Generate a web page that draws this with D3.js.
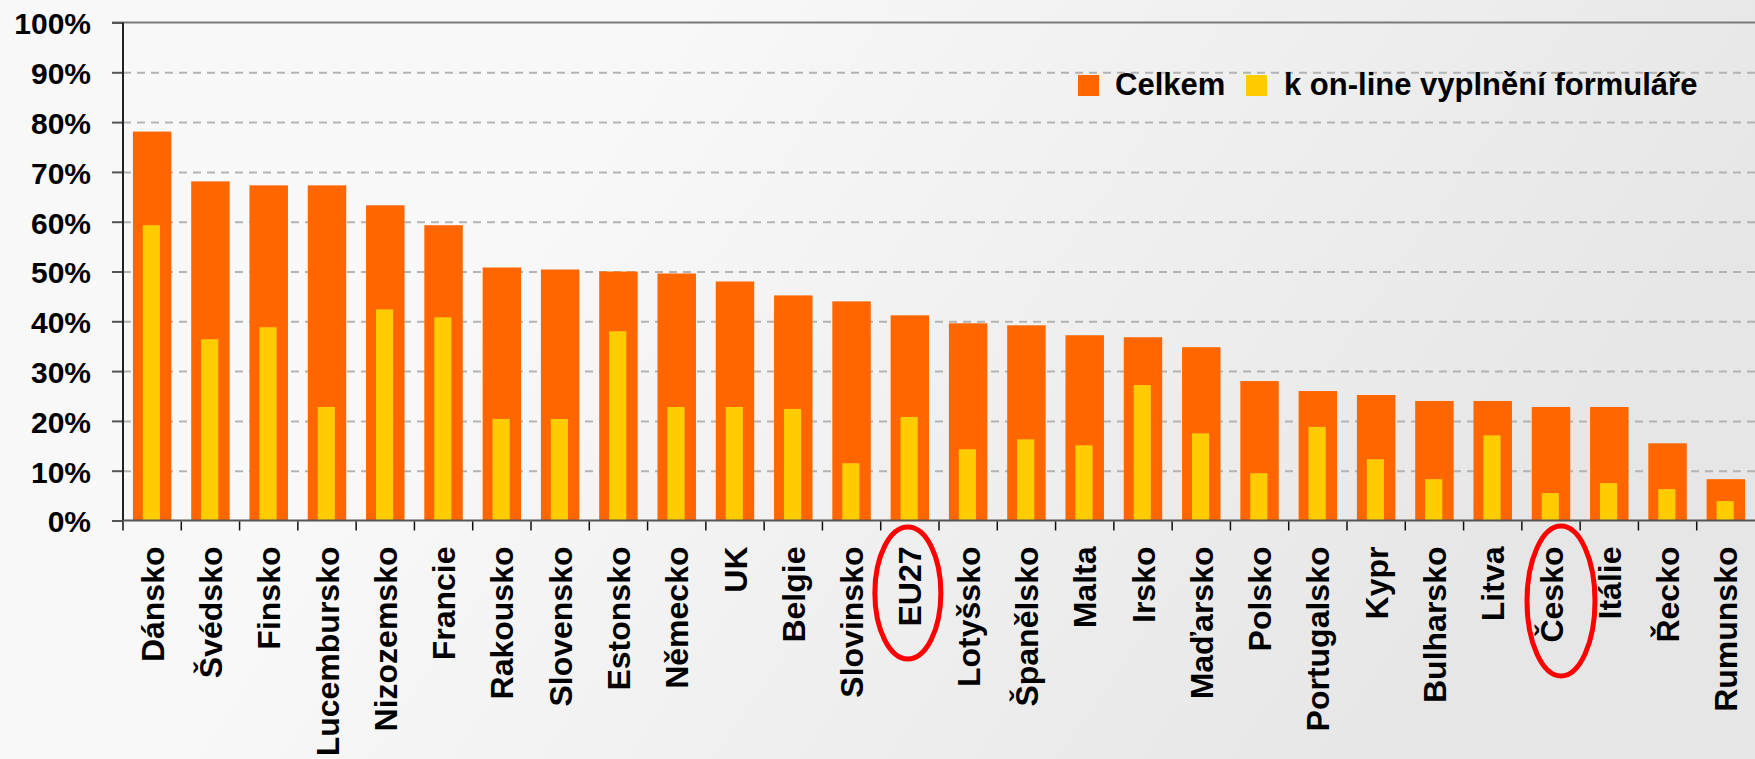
<!DOCTYPE html>
<html>
<head>
<meta charset="utf-8">
<script src="https://cdn.jsdelivr.net/npm/d3@7"></script>
<style>
  html, body { margin: 0; padding: 0; overflow: hidden; }
  svg { display: block; font-family: "Liberation Sans", Arial, sans-serif; }
</style>
</head>
<body>
<div id="chart"></div>
<script>
// Categories and values (share of people using e-government, %)
const countries = ["Dánsko", "Švédsko", "Finsko", "Lucembursko", "Nizozemsko", "Francie",
  "Rakousko", "Slovensko", "Estonsko", "Německo", "UK", "Belgie", "Slovinsko", "EU27",
  "Lotyšsko", "Španělsko", "Malta", "Irsko", "Maďarsko", "Polsko", "Portugalsko", "Kypr",
  "Bulharsko", "Litva", "Česko", "Itálie", "Řecko", "Rumunsko"];

const celkem = [78.1, 68.1, 67.3, 67.3, 63.3, 59.3, 50.8, 50.4, 50.0, 49.6, 48.0, 45.2, 44.0, 41.2,
  39.6, 39.2, 37.2, 36.8, 34.8, 28.0, 26.0, 25.2, 24.0, 24.0, 22.8, 22.8, 15.5, 8.3];

const online = [59.3, 36.4, 38.8, 22.8, 42.4, 40.8, 20.4, 20.4, 38.0, 22.8, 22.8, 22.4, 11.5, 20.8,
  14.3, 16.3, 15.1, 27.2, 17.5, 9.5, 18.8, 12.3, 8.3, 17.1, 5.5, 7.5, 6.3, 3.9];

const seriesNames = ["Celkem", "k on-line vyplnění formuláře"];
const yTicks = [0, 0.1, 0.2, 0.3, 0.4, 0.5, 0.6, 0.7, 0.8, 0.9, 1.0];
const highlighted = ["EU27", "Česko"];

const data = countries.map((c, i) => ({ country: c, total: celkem[i] / 100, form: online[i] / 100 }));

const width = 1755, height = 759;
const margins = { top: 22.5, right: 0, bottom: 238, left: 123 };
const colors = { total: "#ff6600", form: "#ffcc00" };

const svg = d3.select("#chart")
  .append("svg")
  .attr("width", width)
  .attr("height", height);

// background gradient
const grad = svg.append("defs").append("linearGradient")
  .attr("id", "bg")
  .attr("x1", "0").attr("y1", "0").attr("x2", "1").attr("y2", "0.3");
grad.append("stop").attr("offset", "0").attr("stop-color", "#f8f8f8");
grad.append("stop").attr("offset", "0.35").attr("stop-color", "#f8f8f8");
grad.append("stop").attr("offset", "1").attr("stop-color", "#e6e6e6");

svg.append("rect")
  .attr("width", width).attr("height", height)
  .attr("fill", "url(#bg)");

const xScale = d3.scaleBand()
  .domain(countries)
  .range([margins.left, width - margins.right])
  .padding(0);

const yScale = d3.scaleLinear()
  .domain([0, 1])
  .range([height - margins.bottom - 0.5, margins.top]);

// gridlines
svg.append("g")
    .attr("transform", `translate(${margins.left},0)`)
  .call(d3.axisLeft(yScale).tickValues(yTicks.slice(1, -1)).tickSize(-(width - margins.left)).tickFormat(""))
  .call(g => g.select(".domain").remove())
  .call(g => g.selectAll(".tick line")
    .attr("stroke", "#b3b3b3")
    .attr("stroke-width", 2)
    .attr("stroke-dasharray", "8,6"));

// top border
svg.append("line")
  .attr("x1", margins.left - 11).attr("x2", width)
  .attr("y1", yScale(1)).attr("y2", yScale(1))
  .attr("stroke", "#7a7a7a").attr("stroke-width", 2);

// bars
const bw = xScale.bandwidth();
const bars = svg.append("g");

bars.selectAll("rect.total")
  .data(data)
  .join("rect")
    .attr("class", "total")
    .attr("x", d => xScale(d.country) + bw * 0.17)
    .attr("y", d => yScale(d.total))
    .attr("width", bw * 0.66)
    .attr("height", d => yScale(0) - yScale(d.total))
    .attr("fill", colors.total);

bars.selectAll("rect.form")
  .data(data)
  .join("rect")
    .attr("class", "form")
    .attr("x", d => xScale(d.country) + bw * 0.34)
    .attr("y", d => yScale(d.form))
    .attr("width", bw * 0.295)
    .attr("height", d => yScale(0) - yScale(d.form))
    .attr("fill", colors.form);

// y axis
const yGroup = svg.append("g")
    .attr("transform", `translate(${margins.left},0)`)
  .call(d3.axisLeft(yScale).tickValues(yTicks).tickFormat(d3.format(".0%")).tickSize(11).tickPadding(21))
  .call(g => g.select(".domain").remove());

yGroup.selectAll(".tick line").attr("stroke", "#555").attr("stroke-width", 2);
yGroup.selectAll("text")
  .attr("dy", "0.38em")
  .style("font-size", "30px")
  .style("font-weight", "bold")
  .style("font-family", "'Liberation Sans', Arial, sans-serif")
  .attr("fill", "#000");

svg.append("line")
  .attr("x1", margins.left).attr("x2", margins.left)
  .attr("y1", yScale(1)).attr("y2", yScale(0))
  .attr("stroke", "#222").attr("stroke-width", 2);

// x axis
const xGroup = svg.append("g")
    .attr("transform", `translate(0,${yScale(0)})`)
  .call(d3.axisBottom(xScale).tickSize(10))
  .call(g => g.select(".domain")
    .attr("d", `M${margins.left},0H${width}`)
    .attr("stroke", "#555").attr("stroke-width", 2));

xGroup.selectAll(".tick line")
  .attr("x1", -bw / 2).attr("x2", -bw / 2)
  .attr("y1", 1)
  .attr("stroke", "#111").attr("stroke-width", 1.5);

xGroup.selectAll(".tick text")
  .attr("transform", "rotate(-90)")
  .attr("x", -26)
  .attr("y", 0)
  .attr("dy", "0.36em")
  .style("text-anchor", "end")
  .style("font-size", "32px")
  .style("font-weight", "bold")
  .style("font-family", "'Liberation Sans', Arial, sans-serif")
  .attr("fill", "#000");

// red ellipses around highlighted labels
const ellipseShape = { "EU27": { dx: -2, cy: 593, rx: 33, ry: 66 }, "Česko": { dx: 10, cy: 601, rx: 34, ry: 75 } };
svg.append("g")
  .selectAll("ellipse")
  .data(highlighted)
  .join("ellipse")
    .attr("cx", d => xScale(d) + bw / 2 + ellipseShape[d].dx)
    .attr("cy", d => ellipseShape[d].cy)
    .attr("rx", d => ellipseShape[d].rx)
    .attr("ry", d => ellipseShape[d].ry)
    .attr("fill", "none")
    .attr("stroke", "#ff0000")
    .attr("stroke-width", 5);

// legend
const legendX = [1078, 1246];
const legend = svg.append("g")
  .selectAll("g")
  .data(seriesNames)
  .join("g")
    .attr("transform", (d, i) => `translate(${legendX[i]},75)`);

legend.append("rect")
  .attr("width", 21).attr("height", 21)
  .attr("fill", (d, i) => i === 0 ? colors.total : colors.form);

legend.append("text")
  .attr("x", (d, i) => i === 0 ? 37 : 38)
  .attr("y", 19.5)
  .style("font-size", "31px")
  .style("font-weight", "bold")
  .attr("fill", "#000")
  .text(d => d);
</script>
</body>
</html>
